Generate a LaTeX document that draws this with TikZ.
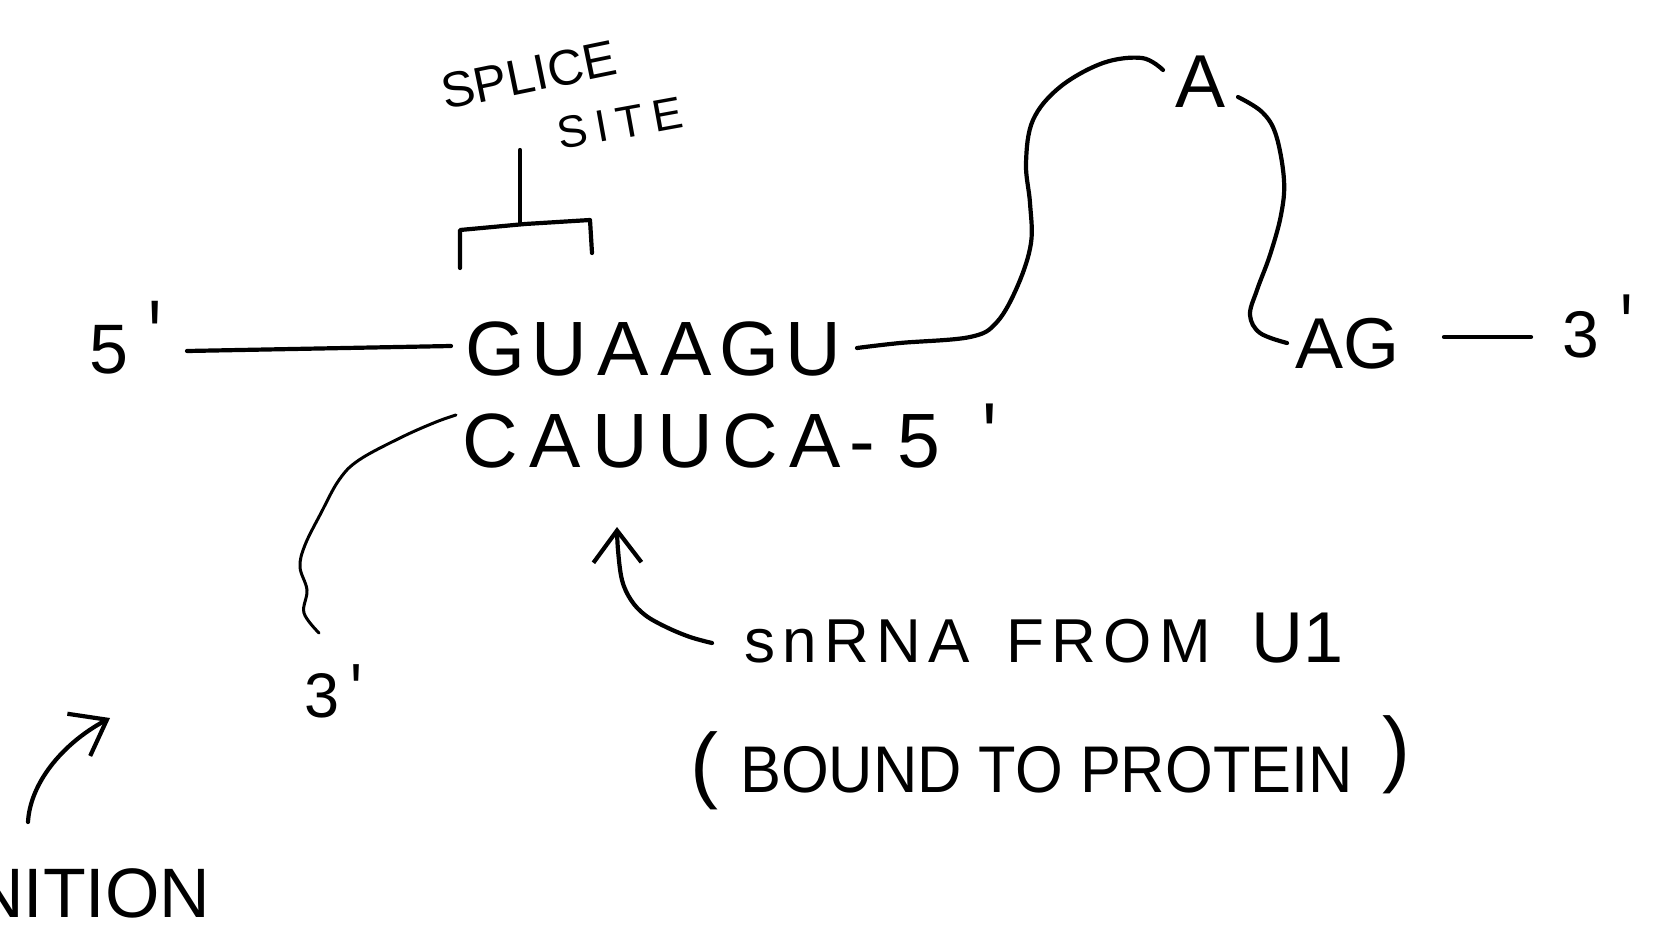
\documentclass[tikz,border=0pt]{standalone}
\usepackage{fontspec}
\usepackage{graphicx}
\setmainfont{Liberation Sans}
\usetikzlibrary{arrows.meta}
\makeatletter
% set each letter of a sequence in a box of fixed width
\newcommand\pitched[2]{\@tfor\pch:=#2\do{\makebox[#1]{\pch}}}
\makeatother
\newcommand\fsz[1]{\fontsize{#1}{#1}\selectfont}
% tall prime mark
\newcommand\tick[1]{\scalebox{1}[#1]{\textquotesingle}}

\tikzset{
  strand/.style={line width=4.2pt, line cap=round, line join=round},
  thinstrand/.style={line width=3pt, line cap=round, line join=round},
  lbl/.style={inner sep=0pt, anchor=base west},
  pointer/.style={strand, -{Straight Barb[length=32pt,width=48pt,line width=4.2pt]}}
}

\begin{document}
\begin{tikzpicture}[x=1pt,y=-1pt]
\useasboundingbox (0,0) rectangle (1658,945);
\fill[white] (0,0) rectangle (1658,945);

% sequence labels
\node[lbl] (five) at (89,373) {\fsz{70}5\hspace{20pt}\tick{1.5}};
\node[lbl] (donor) at (464,375) {\fsz{77}\pitched{63.4pt}{GUAAGU}};
\node[lbl] (snseq) at (458,467) {\fsz{77}\pitched{65pt}{CAUUCA}\makebox[28pt]{-}\makebox[86pt]{5}\makebox[56pt]{\tick{1.2}}};
\node[lbl] (branchA) at (1175,107) {\fsz{75}A};
\node[lbl] (acceptor) at (1295,368) {\fsz{72}AG};
\node[lbl] (three) at (1562,357) {\fsz{66}3\hspace{22pt}\tick{1.38}};
\node[lbl] (snthree) at (304,717) {\fsz{63}3\hspace{11pt}\tick{1.22}};

% annotations
\node[lbl,rotate=11.6] (splice) at (445,110) {\fsz{50}SPLICE};
\node[lbl,rotate=10.3] (site) at (560,150) {\fsz{45}\addfontfeature{LetterSpace=20}SITE};
\node[lbl] (snrna) at (744,662) {\fsz{62}{\addfontfeature{LetterSpace=12}snRNA\hspace{36pt}FROM}\hspace{40pt}\fsz{72}U1};
\node[lbl] (bound) at (690,792) {\fsz{84}(\hspace{22pt}\fsz{66}\scalebox{0.93}[1]{BOUND TO PROTEIN}\hspace{30pt}\fsz{84}\raisebox{16pt}{)}};
\node[lbl] (nition) at (-27,917) {\fsz{70}NITION};

% pre-mRNA strand
\coordinate (fiveEnd) at (187,351);
\coordinate (donorIn) at (451,346);
\draw[strand] (fiveEnd) -- (donorIn);
\draw[strand] plot[smooth, tension=0.6] coordinates {(857,348) (900,343) (970,337) (997,322) (1018,285) (1031,243) (1030,203) (1026,163) (1033,120) (1060,87) (1103,63) (1142,58) (1163,70)};
\draw[strand] plot[smooth, tension=0.6] coordinates {(1238,97) (1262,112) (1276,135) (1284,180) (1281,215) (1270,255) (1257,290) (1250,315) (1260,333) (1287,343)};
\coordinate (agOut) at (1444,337);
\coordinate (threeIn) at (1531,337);
\draw[strand] (agOut) -- (threeIn);

% snRNA tail
\draw[thinstrand] plot[smooth, tension=0.6] coordinates {(456,415) (436,422) (402,437) (359,460) (339,480) (321,513) (305,545) (300,567) (307,590) (304,613) (319,633)};

% splice-site bracket
\coordinate (tickTop) at (520,150);
\coordinate (tickBot) at (520,223);
\draw[strand] (tickTop) -- (tickBot);
\draw[strand] (460,268) -- (460,230) -- (525,224) -- (590,220) -- (592,253);

% pointers
\draw[pointer] plot[smooth, tension=0.6] coordinates {(712,643) (690,637) (666,627) (645,615) (631,600) (622,580) (618,550) (617,527)};
\draw[pointer] (28,822) .. controls (30,785) and (60,745) .. (110,718);
\end{tikzpicture}
\end{document}
